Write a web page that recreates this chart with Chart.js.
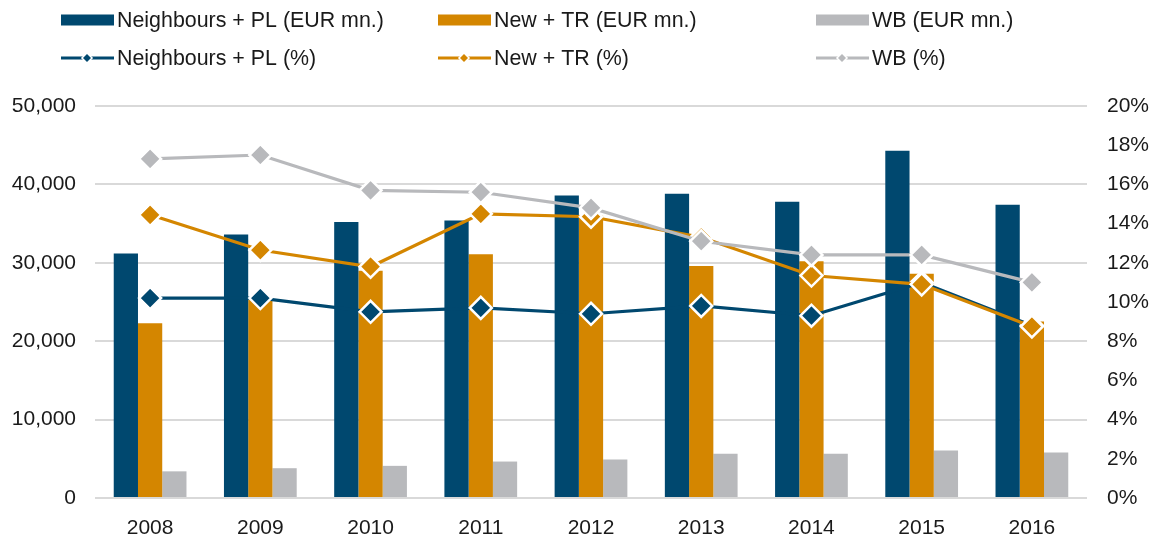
<!DOCTYPE html>
<html>
<head>
<meta charset="utf-8">
<title>Neighbours + PL, New + TR, WB</title>
<script src="https://cdn.jsdelivr.net/npm/chart.js@4.4.1/dist/chart.umd.min.js"></script>
<style>
    body { margin: 0; background: #fff; }
    #box { width: 1157px; height: 534px; }
</style>
</head>
<body>
<div id="box"><canvas id="grafico" width="1157" height="534"></canvas></div>
<script>
// data
var years = ['2008', '2009', '2010', '2011', '2012', '2013', '2014', '2015', '2016'];

var neighboursEur = [31200, 33600, 35200, 35400, 38600, 38800, 37800, 44300, 37400];
var newTrEur = [22300, 25300, 29000, 31100, 36000, 29600, 30200, 28600, 22500];
var wbEur = [3400, 3800, 4100, 4650, 4900, 5650, 5650, 6050, 5800];

var neighboursPct = [10.2, 10.2, 9.5, 9.7, 9.4, 9.8, 9.3, 11.0, 8.8];
var newTrPct = [14.45, 12.65, 11.8, 14.5, 14.35, 13.3, 11.35, 10.9, 8.75];
var wbPct = [17.3, 17.5, 15.7, 15.6, 14.8, 13.1, 12.4, 12.4, 11.0];

var eurTicks = [0, 10000, 20000, 30000, 40000, 50000];
var pctTicks = [0, 2, 4, 6, 8, 10, 12, 14, 16, 18, 20];

var navy = '#00486f';
var orange = '#d48600';
var grey = '#b8b9bc';
var textColor = '#1a1a1a';

Chart.defaults.font.family = '"Liberation Sans", Arial, sans-serif';
Chart.defaults.font.size = 21;
Chart.defaults.color = textColor;

// legend in two rows of three, like the original
var legendPlugin = {
    id: 'twoRowLegend',
    afterDraw: function(chart) {
        var ctx = chart.ctx;
        var colX = [61, 438, 816];
        var rowY = [20, 58];
        ctx.save();
        ctx.font = '21.4px "Liberation Sans", Arial, sans-serif';
        ctx.textBaseline = 'middle';
        chart.data.datasets.forEach(function(ds, i) {
            var x = colX[i % 3];
            var y = rowY[Math.floor(i / 3)];
            if (ds.type === 'line') {
                ctx.strokeStyle = ds.borderColor;
                ctx.lineWidth = 3;
                ctx.beginPath();
                ctx.moveTo(x, y);
                ctx.lineTo(x + 53, y);
                ctx.stroke();
                var cx = x + 26;
                ctx.beginPath();
                ctx.moveTo(cx - 4, y);
                ctx.lineTo(cx, y - 4);
                ctx.lineTo(cx + 4, y);
                ctx.lineTo(cx, y + 4);
                ctx.closePath();
                ctx.strokeStyle = '#fff';
                ctx.lineWidth = 3;
                ctx.stroke();
                ctx.fillStyle = ds.borderColor;
                ctx.fill();
            } else {
                ctx.fillStyle = ds.backgroundColor;
                ctx.fillRect(x, y - 5.5, 53, 11);
            }
            ctx.fillStyle = textColor;
            ctx.fillText(ds.label, x + 56, y + 1);
        });
        ctx.restore();
    }
};

function lineSet(label, values, color, order) {
    return {
        type: 'line',
        label: label,
        data: values,
        yAxisID: 'y1',
        borderColor: color,
        backgroundColor: color,
        borderWidth: 3.2,
        tension: 0,
        pointStyle: 'rectRot',
        pointRadius: 11,
        pointBackgroundColor: color,
        pointBorderColor: '#fff',
        pointBorderWidth: 2.5,
        order: order
    };
}

function barSet(label, values, color) {
    return {
        type: 'bar',
        label: label,
        data: values,
        yAxisID: 'y',
        backgroundColor: color,
        borderWidth: 0,
        barPercentage: 1,
        categoryPercentage: 0.66,
        order: 4
    };
}

var ctx = document.getElementById('grafico').getContext('2d');
var myChart = new Chart(ctx, {
    type: 'bar',
    data: {
        labels: years,
        datasets: [
            barSet('Neighbours + PL (EUR mn.)', neighboursEur, navy),
            barSet('New + TR (EUR mn.)', newTrEur, orange),
            barSet('WB (EUR mn.)', wbEur, grey),
            lineSet('Neighbours + PL (%)', neighboursPct, navy, 3),
            lineSet('New + TR (%)', newTrPct, orange, 2),
            lineSet('WB (%)', wbPct, grey, 1)
        ]
    },
    options: {
        responsive: false,
        animation: false,
        events: [],
        layout: { padding: { top: 106, left: 0, right: 0, bottom: 0 } },
        plugins: {
            legend: { display: false },
            tooltip: { enabled: false }
        },
        scales: {
            x: {
                grid: { display: false },
                border: { display: false },
                ticks: { padding: 10 },
                afterFit: function(s) { s.height = 36; }
            },
            y: {
                position: 'left',
                min: eurTicks[0],
                max: eurTicks[eurTicks.length - 1],
                afterBuildTicks: function(s) {
                    s.ticks = eurTicks.map(function(v) { return { value: v }; });
                },
                ticks: {
                    padding: 19,
                    callback: function(v) { return v.toLocaleString('en-US'); }
                },
                grid: { color: '#d9d9d9', lineWidth: 2, drawTicks: false },
                border: { display: false },
                afterFit: function(s) { s.width = 95; }
            },
            y1: {
                position: 'right',
                min: pctTicks[0],
                max: pctTicks[pctTicks.length - 1],
                afterBuildTicks: function(s) {
                    s.ticks = pctTicks.map(function(v) { return { value: v }; });
                },
                ticks: {
                    padding: 20,
                    callback: function(v) { return v + '%'; }
                },
                grid: { display: false, drawTicks: false },
                border: { display: false },
                afterFit: function(s) { s.width = 70; }
            }
        }
    },
    plugins: [legendPlugin]
});
</script>
</body>
</html>
